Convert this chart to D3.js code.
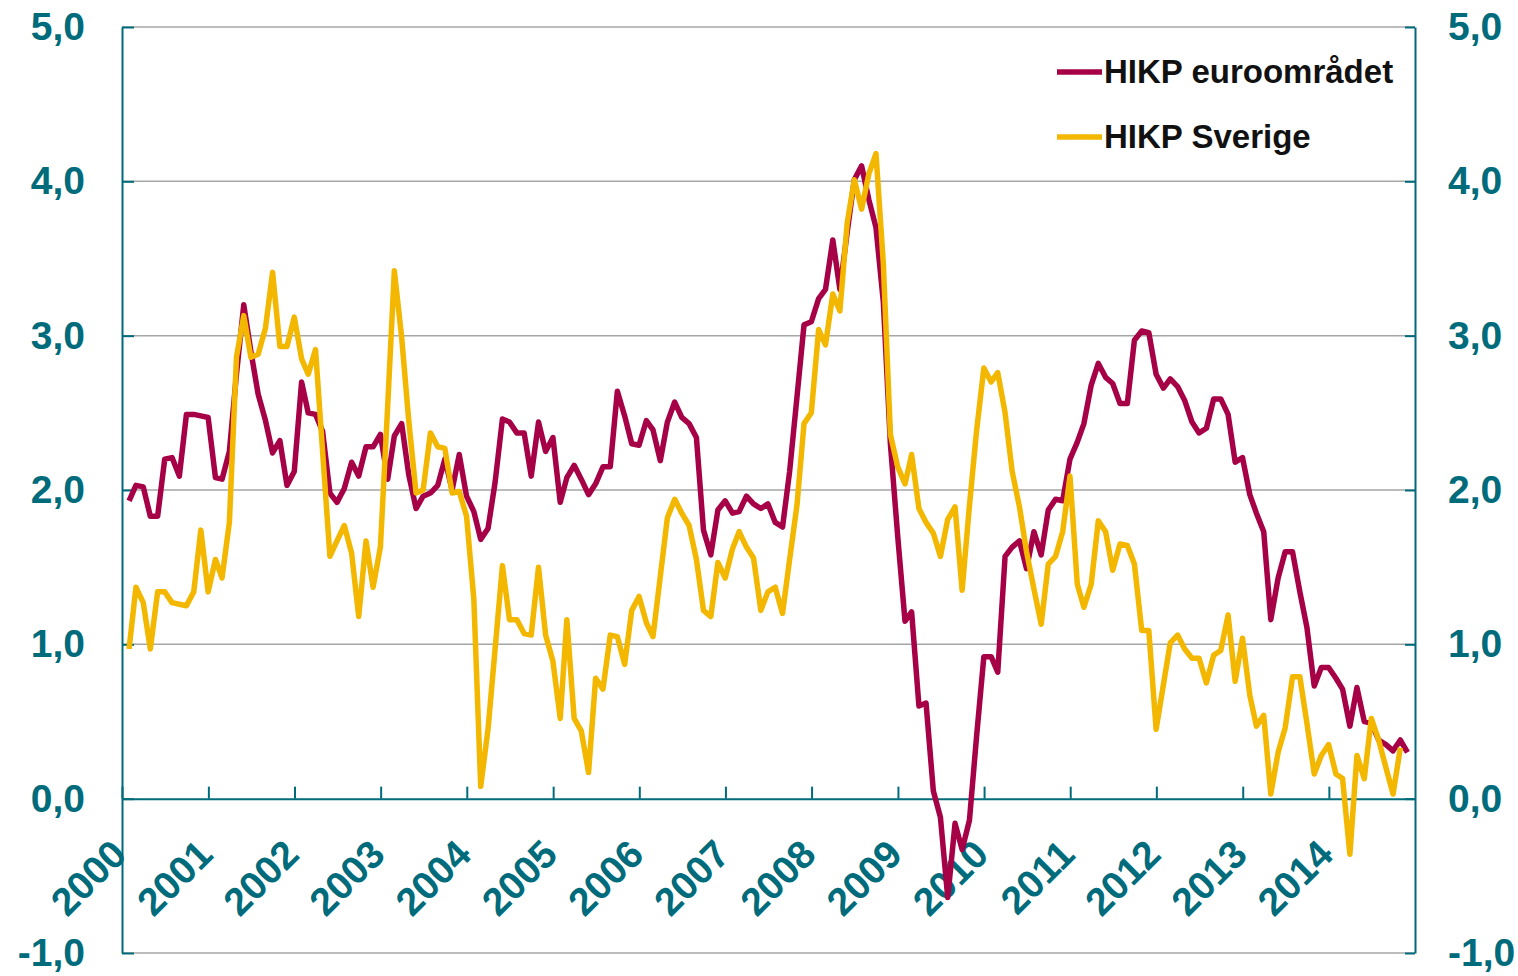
<!DOCTYPE html>
<html lang="sv">
<head>
<meta charset="utf-8">
<title>HIKP euroområdet och Sverige</title>
<style>
   html,body { margin:0; padding:0; background:white; }
   svg { display:block; font-family:"Liberation Sans", Arial, sans-serif; }
</style>
<script src="https://d3js.org/d3.v7.min.js"></script>
</head>
<body>
<script>
// monthly annual rates, Jan 2000 onwards
let euro = [
   1.93,2.03,2.02,1.83,1.83,2.20,2.21,2.09,2.49,2.49,2.48,2.47, // 2000
   2.08,2.07,2.25,2.75,3.20,2.90,2.62,2.45,2.24,2.32,2.03,2.12, // 2001
   2.70,2.50,2.49,2.38,1.98,1.92,2.01,2.18,2.09,2.28,2.28,2.36, // 2002
   2.07,2.35,2.43,2.10,1.88,1.96,1.98,2.03,2.20,2.00,2.23,1.96, // 2003
   1.86,1.68,1.75,2.05,2.46,2.44,2.37,2.37,2.09,2.44,2.25,2.34, // 2004
   1.92,2.08,2.16,2.07,1.97,2.04,2.15,2.15,2.64,2.48,2.30,2.29, // 2005
   2.45,2.39,2.19,2.44,2.57,2.47,2.43,2.34,1.74,1.58,1.87,1.93, // 2006
   1.85,1.86,1.96,1.91,1.88,1.91,1.79,1.76,2.12,2.60,3.07,3.09, // 2007
   3.24,3.30,3.62,3.30,3.67,4.01,4.10,3.88,3.70,3.22,2.30,1.70, // 2008
   1.15,1.21,0.60,0.62,0.05,-0.12,-0.64,-0.16,-0.33,-0.14,0.40,0.92, // 2009
   0.92,0.82,1.57,1.63,1.67,1.49,1.73,1.58,1.87,1.94,1.93,2.20, // 2010
   2.31,2.43,2.68,2.82,2.73,2.69,2.56,2.56,2.97,3.03,3.02,2.75, // 2011
   2.66,2.72,2.67,2.58,2.44,2.37,2.40,2.59,2.59,2.49,2.18,2.21, // 2012
   1.97,1.85,1.73,1.16,1.43,1.60,1.60,1.34,1.11,0.73,0.85,0.85, // 2013
   0.78,0.71,0.47,0.72,0.50,0.49,0.38,0.35,0.31,0.38,0.30       // 2014
];
let sverige = [
   0.97,1.37,1.27,0.97,1.34,1.34,1.27,1.26,1.25,1.34,1.74,1.34, // 2000
   1.55,1.43,1.79,2.86,3.13,2.86,2.88,3.05,3.41,2.93,2.93,3.12, // 2001
   2.85,2.75,2.91,2.25,1.57,1.67,1.77,1.59,1.18,1.67,1.37,1.63, // 2002
   2.55,3.42,2.99,2.45,1.98,2.00,2.37,2.28,2.27,1.98,1.99,1.83, // 2003
   1.29,0.08,0.45,0.97,1.51,1.16,1.16,1.07,1.06,1.50,1.06,0.89, // 2004
   0.52,1.16,0.52,0.44,0.17,0.78,0.71,1.06,1.05,0.87,1.22,1.31, // 2005
   1.14,1.05,1.44,1.82,1.94,1.85,1.77,1.55,1.22,1.18,1.53,1.43, // 2006
   1.62,1.73,1.63,1.56,1.22,1.34,1.37,1.20,1.55,1.90,2.43,2.50, // 2007
   3.04,2.94,3.27,3.16,3.73,4.01,3.82,4.05,4.18,3.47,2.36,2.15, // 2008
   2.04,2.23,1.88,1.79,1.72,1.57,1.81,1.89,1.35,1.90,2.38,2.79, // 2009
   2.70,2.76,2.50,2.12,1.89,1.60,1.36,1.13,1.52,1.57,1.73,2.09, // 2010
   1.39,1.24,1.39,1.80,1.73,1.48,1.65,1.64,1.52,1.09,1.09,0.45, // 2011
   0.74,1.01,1.06,0.97,0.91,0.91,0.75,0.93,0.96,1.19,0.76,1.04, // 2012
   0.67,0.47,0.54,0.03,0.30,0.46,0.79,0.79,0.49,0.16,0.28,0.35, // 2013
   0.16,0.13,-0.36,0.28,0.13,0.52,0.38,0.20,0.03,0.33            // 2014
];
let years = [2000,2001,2002,2003,2004,2005,2006,2007,2008,2009,2010,2011,2012,2013,2014];
let yticks = [-1,0,1,2,3,4,5];
let series = [
   {name:'HIKP euroområdet', values:euro, color:'#a60046'},
   {name:'HIKP Sverige', values:sverige, color:'#f3b700'},
];

let teal = '#006b7b';
let width = 1518, height = 976;
let margin = {top:27, right:103, bottom:23, left:122};

// points sit at the end of each month
function fdate(i) { return new Date(2000, i+1, 0); };

let x = d3.scaleTime()
   .domain([new Date(2000,0,1), new Date(2015,0,1)])
   .range([margin.left, width - margin.right]);
let y = d3.scaleLinear()
   .domain([-1,5])
   .range([height - margin.bottom, margin.top]);
let fnum = d => d3.format('.1f')(d).replace('.',',').replace('\u2212','-');

const svg = d3.select('body').append('svg')
   .attr('width',width).attr('height',height)
   .attr('viewBox',[0,0,width,height]);

// gridlines
svg.append('g')
   .selectAll('line')
   .data(yticks.filter(d => d!==0))
   .join('line')
   .attr('x1',x.range()[0]).attr('x2',x.range()[1])
   .attr('y1',d => y(d)).attr('y2',d => y(d))
   .attr('stroke','#a6a6a6').attr('stroke-width',1.5);

// left and right axes
let yAxisL = g => g
   .attr('transform',`translate(${x.range()[0]},0)`)
   .call(d3.axisLeft(y).tickValues(yticks).tickFormat(fnum).tickSizeInner(-12).tickSizeOuter(0).tickPadding(37));
let yAxisR = g => g
   .attr('transform',`translate(${x.range()[1]},0)`)
   .call(d3.axisRight(y).tickValues(yticks).tickFormat(fnum).tickSizeInner(-10).tickSizeOuter(0).tickPadding(33));
[yAxisL,yAxisR].forEach(a => {
   svg.append('g').call(a)
      .call(g => g.selectAll('.domain,line').attr('stroke',teal).attr('stroke-width',2))
      .call(g => g.selectAll('text').attr('fill',teal).attr('font-size',39).attr('font-weight','bold').attr('font-family','Liberation Sans, Arial, sans-serif'));
});

// year axis on the zero line
svg.append('g')
   .attr('transform',`translate(0,${y(0)})`)
   .call(d3.axisBottom(x).tickValues(years.map(d => new Date(d,0,1))).tickSizeInner(-12).tickSizeOuter(0).tickFormat(d3.timeFormat('%Y')))
   .call(g => g.selectAll('.domain,line').attr('stroke',teal).attr('stroke-width',2))
   .call(g => g.selectAll('text')
      .attr('fill',teal).attr('font-size',39).attr('font-weight','bold')
      .attr('font-family','Liberation Sans, Arial, sans-serif')
      .attr('text-anchor','end')
      .attr('y',0).attr('dy',0)
      .attr('transform','translate(6,58) rotate(-45)'));

// lines
let line = d3.line()
   .x((d,i) => x(fdate(i)))
   .y(d => y(d));
for (let s of series) {
   svg.append('path')
      .attr('d',line(s.values))
      .attr('fill','none')
      .attr('stroke',s.color)
      .attr('stroke-width',5.5)
      .attr('stroke-linejoin','round');
};

// legend
let legend = svg.append('g').attr('transform','translate(1057,72)');
series.forEach((s,i) => {
   let g = legend.append('g').attr('transform',`translate(0,${i*65})`);
   g.append('line').attr('x1',0).attr('x2',45).attr('y1',0).attr('y2',0)
      .attr('stroke',s.color).attr('stroke-width',5.5);
   g.append('text').attr('x',47).attr('y',11)
      .attr('font-size',33).attr('font-weight','bold').attr('fill','#111')
      .text(s.name);
});
</script>
</body>
</html>
